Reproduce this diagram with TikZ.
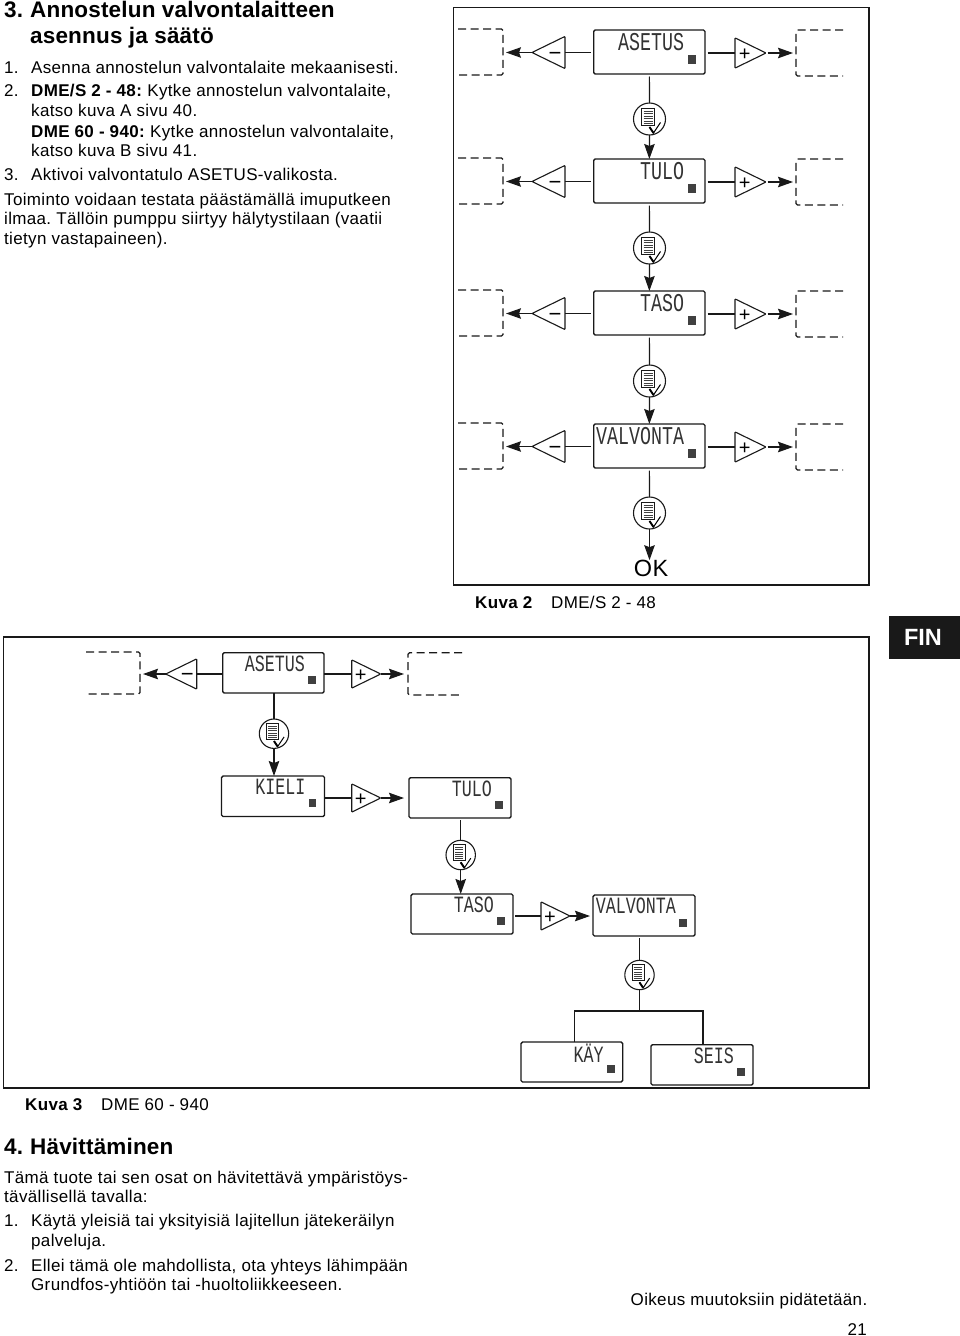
\documentclass[tikz,border=0pt]{standalone}
\usepackage{fontspec}
\setmainfont[LetterSpace=2]{Liberation Sans}
\newfontfamily\lcd{Liberation Mono}
\newfontfamily\symf{Liberation Sans}
\usetikzlibrary{shapes.geometric,arrows.meta,calc}
\newcommand{\fsz}[1]{\fontsize{#1}{#1}\selectfont}
\tikzset{
 frame/.style={draw=black!90,line width=1.3pt},
 lcdbox/.style={draw=black!90,line width=1.4pt,rounded corners=1.5pt,inner sep=0pt,outer sep=0pt},
 sq/.style={draw=none,fill=black!75,inner sep=0pt,outer sep=0pt},
 ln/.style={line width=1.2pt,draw=black!90},
 arr/.style={line width=1.2pt,draw=black!90,-{Stealth[length=15pt,width=10.5pt,inset=2pt]}},
 tri/.style={draw=black!90,line width=1.1pt,isosceles triangle,isosceles triangle apex angle=52,inner sep=0pt,outer sep=0pt,rounded corners=0.8pt},
 dashbox/.style={line width=1.2pt,draw=black!90,dash pattern=on 8pt off 4.5pt,rounded corners=1.5pt},
 ghost/.style={inner sep=0pt,outer sep=0pt},
 btn/.style={draw=black!90,line width=1.1pt,circle,inner sep=0pt,outer sep=0pt},
 body/.style={anchor=base west,inner sep=0pt,font=\fsz{17}},
 hd/.style={anchor=base west,inner sep=0pt,font=\fsz{22.5}\bfseries\addfontfeature{LetterSpace=0.8}},
 boldcap/.style={anchor=base west,inner sep=0pt,font=\fsz{17}\bfseries},
 sign/.style={anchor=base,inner sep=0pt,outer sep=0pt},
}
% box: name,x1,y1,x2,y2,text,scale
\newcommand{\dispbox}[7]{%
 \node[lcdbox,minimum width={(#4-(#2))*1pt},minimum height={(#5-(#3))*1pt},anchor=north west] (#1) at (#2,#3) {};
 \node[ghost,anchor=east] (#1t) at ($(#1.north east)+({-21*#7},{12*#7})$) {\scalebox{#7}{\scalebox{1}[1.4]{\lcd\fsz{18.3}\color{black!80}#6}}};
 \node[sq,minimum width={8.5pt*#7},minimum height={9pt*#7},anchor=south east] (#1s) at ($(#1.south east)+({-9*#7},{-10*#7})$) {};
}
% round key: name,x,y,r
\newcommand{\okkey}[4]{%
 \node[btn,minimum size={2pt*#4}] (#1) at (#2,#3) {};
 \begin{scope}[shift={(#1.center)},scale=#4/16]
  \draw[line width=.9pt,draw=black!90] (-8,-11) rectangle (5,6);
  \foreach \q in {-8,-5.5,-3,-.5,2,4}{\draw[line width=1pt,draw=black!75] (-6,\q) -- (3,\q);}
  \draw[line width=1pt,draw=black] (0,8) -- (4,14) -- (11,3.5);
  \draw[line width=1.9pt,draw=black] (0,8) -- (4,14);
 \end{scope}
}
\newcommand{\plusT}[4]{% name, xbase, y, height
 \node[tri,shape border rotate=0,minimum height={#4*1pt},anchor=lower side] (#1) at (#2,#3) {};
 \node[sign] (#1l) at (#2+#4*.31,#3+7) {\symf\fsz{20}+};
}
\newcommand{\minusT}[4]{%
 \node[tri,shape border rotate=180,minimum height={#4*1pt},anchor=lower side] (#1) at (#2,#3) {};
 \node[sign] (#1l) at (#2-#4*.3,#3+7.5) {\symf\fsz{22}−};
}
\newcommand{\dashL}[5]{% name,x1,y1,x2,y2  open left
 \node[ghost,minimum width={(#4-(#2))*1pt},minimum height={(#5-(#3))*1pt},anchor=north west] (#1) at (#2,#3) {};
 \draw[dashbox] (#1.north west) -- (#1.north east) -- (#1.south east) -- (#1.south west);
}
\newcommand{\dashR}[5]{%
 \node[ghost,minimum width={(#4-(#2))*1pt},minimum height={(#5-(#3))*1pt},anchor=north west] (#1) at (#2,#3) {};
 \draw[dashbox] (#1.north east) -- (#1.north west) -- (#1.south west) -- (#1.south east);
}
% row of first frame
\newcommand{\rowA}[4]{% id, y, text, keyy
 \dispbox{b#1}{593.7}{#2}{705}{#2+44}{#3}{1}
 \minusT{m#1}{565}{#2+22.5}{33}
 \plusT{p#1}{735}{#2+23}{31}
 \dashL{dl#1}{458}{#2-1}{503}{#2+45}
 \dashR{dr#1}{796}{#2}{843}{#2+46}
 \draw[ln,shorten <=2.5pt] (b#1.west|-m#1.lower side) -- (m#1.lower side);
 \draw[arr,shorten >=3pt] (m#1.apex) -- (dl#1.east|-m#1.apex);
 \draw[ln,shorten <=2.5pt] (b#1.east|-p#1.lower side) -- (p#1.lower side);
 \draw[arr,shorten <=1.5pt,shorten >=3pt] (p#1.apex) -- (dr#1.west|-p#1.apex);
 \okkey{k#1}{649.5}{#4}{16}
 \draw[ln,shorten <=2.5pt] (b#1.south) -- (k#1.north);
}
\begin{document}
\frenchspacing
\begin{tikzpicture}[x=1pt,y=-1pt]
\useasboundingbox (0,0) rectangle (960,1336);
\fill[white] (0,0) rectangle (960,1336);
% text column
\node[hd] (t0) at (4,17.5) {3.};
\node[hd] (t1) at (30,17.5) {Annostelun valvontalaitteen};
\node[hd] (t2) at (30,43.5) {asennus ja säätö};
\node[body] (t3) at (4,73.3) {1.};
\node[body] (t4) at (31,73.3) {Asenna annostelun valvontalaite mekaanisesti.};
\node[body] (t5) at (4,96.7) {2.};
\node[body] (t6) at (31,96.7) {\textbf{DME/S 2 - 48:} Kytke annostelun valvontalaite,};
\node[body] (t7) at (31,116.5) {katso kuva A sivu 40.};
\node[body] (t8) at (31,137.5) {\textbf{DME 60 - 940:} Kytke annostelun valvontalaite,};
\node[body] (t9) at (31,156.7) {katso kuva B sivu 41.};
\node[body] (t10) at (4,180) {3.};
\node[body] (t11) at (31,180) {Aktivoi valvontatulo ASETUS-valikosta.};
\node[body] (t12) at (4,205) {Toiminto voidaan testata päästämällä imuputkeen};
\node[body] (t13) at (4,224.5) {ilmaa. Tällöin pumppu siirtyy hälytystilaan (vaatii};
\node[body] (t14) at (4,244.5) {tietyn vastapaineen).};
% frame 1
\node[frame,ghost,draw,minimum width=415.5pt,minimum height=577.5pt,anchor=north west] (f1) at (453.5,7.5) {};
\rowA{1}{30}{ASETUS}{119}
\rowA{2}{159}{TULO}{248}
\rowA{3}{291}{TASO}{381}
\rowA{4}{424}{VALVONTA}{513}
\draw[arr] (k1.south) -- (b2.north);
\draw[arr] (k2.south) -- (b3.north);
\draw[arr] (k3.south) -- (b4.north);
\node[ghost,font=\fsz{23.5}] (ok) at (651,568.5) {OK};
\draw[arr] (k4.south) -- (k4.south|-ok.north);
\node[boldcap] (c2a) at (475,608) {Kuva 2};
\node[body] (c2b) at (551,608) {DME/S 2 - 48};
% FIN
\node[ghost,fill=black!90,minimum width=71pt,minimum height=43pt,anchor=north west] (fin) at (889,615.5) {};
\node[ghost,text=white,font=\symf\fsz{23.5}\bfseries] (fint) at (923,637) {FIN};
% frame 2
\node[frame,ghost,draw,minimum width=865.5pt,minimum height=451pt,anchor=north west] (f2) at (3.5,637) {};
\dispbox{a1}{222.7}{652.7}{324}{693}{ASETUS}{.91}
\minusT{am}{196.7}{674}{31}
\plusT{ap}{351.7}{674}{29}
\dashL{adl}{86}{652}{140}{694}
\dashR{adr}{408}{652.7}{462}{695}
\draw[ln] (a1.west|-am.lower side) -- (am.lower side);
\draw[arr,shorten >=3pt] (am.apex) -- (adl.east|-am.apex);
\draw[ln] (a1.east|-ap.lower side) -- (ap.lower side);
\draw[arr,shorten >=4pt] (ap.apex) -- (adr.west|-ap.apex);
\okkey{ak1}{274}{733.7}{14.7}
\draw[ln] (a1.south-|ak1.north) -- (ak1.north);
\dispbox{a2}{221.5}{776}{324.5}{816.5}{KIELI}{.91}
\draw[arr] (ak1.south) -- (ak1.south|-a2.north);
\plusT{ap2}{351.7}{798}{29}
\dispbox{a3}{409}{777.7}{511}{818}{TULO}{.91}
\draw[ln] (a2.east|-ap2.lower side) -- (ap2.lower side);
\draw[arr,shorten >=5pt] (ap2.apex) -- (a3.west|-ap2.apex);
\okkey{ak2}{460.7}{855}{14.7}
\draw[ln,shorten <=2pt] (a3.south-|ak2.north) -- (ak2.north);
\dispbox{a4}{411}{894}{513}{934}{TASO}{.91}
\draw[arr] (ak2.south) -- (ak2.south|-a4.north);
\plusT{ap3}{541}{916}{29}
\dispbox{a5}{593}{895}{695}{936}{VALVONTA}{.91}
\draw[ln,shorten <=2pt] (a4.east|-ap3.lower side) -- (ap3.lower side);
\draw[arr,shorten >=3pt] (ap3.apex) -- (a5.west|-ap3.apex);
\okkey{ak3}{639.5}{975}{14.7}
\draw[ln,shorten <=2pt] (a5.south-|ak3.north) -- (ak3.north);
\dispbox{a6}{521}{1042}{622.7}{1082}{KÄY}{.91}
\dispbox{a7}{651}{1044.7}{753}{1085}{SEIS}{.91}
\coordinate (jn) at (639.5,1011);
\draw[ln] (ak3.south) -- (jn);
\draw[ln] (574.7,1042) |- (jn) -| (703,1044.7);
\node[boldcap] (c3a) at (25,1110) {Kuva 3};
\node[body] (c3b) at (101,1110) {DME 60 - 940};
% lower text
\node[hd] (h4a) at (4,1154) {4.};
\node[hd] (h4) at (30,1154) {Hävittäminen};
\node[body] (l1) at (4,1183) {Tämä tuote tai sen osat on hävitettävä ympäristöys-};
\node[body] (l2) at (4,1202.7) {tävällisellä tavalla:};
\node[body] (l3) at (4,1226.7) {1.};
\node[body] (l4) at (31,1226.7) {Käytä yleisiä tai yksityisiä lajitellun jätekeräilyn};
\node[body] (l5) at (31,1246.7) {palveluja.};
\node[body] (l6) at (4,1271) {2.};
\node[body] (l7) at (31,1271) {Ellei tämä ole mahdollista, ota yhteys lähimpään};
\node[body] (l8) at (31,1290.5) {Grundfos-yhtiöön tai -huoltoliikkeeseen.};
\node[body] (oik) at (630.5,1305) {Oikeus muutoksiin pidätetään.};
\node[anchor=base east,inner sep=0pt,font=\fsz{17}] (pg) at (867,1335) {21};
\end{tikzpicture}
\end{document}
